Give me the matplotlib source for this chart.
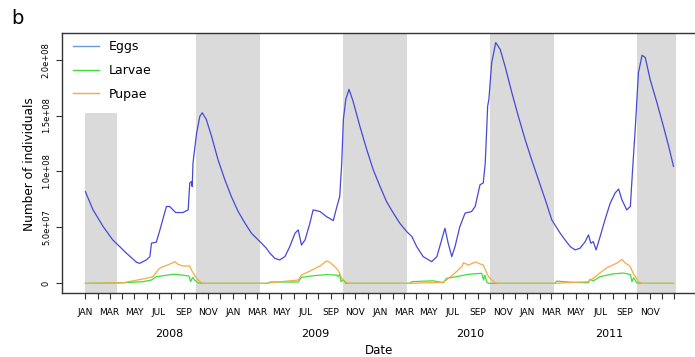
import numpy as np
import matplotlib
matplotlib.use("Agg")
import matplotlib.pyplot as plt
from matplotlib.lines import Line2D

# days counted from 2008-01-01, values in units of 1e7 individuals
start = np.datetime64("2008-01-01")

egg_day = [0, 19, 44, 68, 81, 102, 127, 135, 151, 160, 164, 176, 185, 201, 209, 224,
           242, 255, 259, 263, 265, 267, 276, 284, 290, 300, 313, 329, 346, 362, 379,
           396, 412, 437, 449, 458, 470, 482, 495, 507, 520, 528, 536, 545, 557, 565,
           582, 598, 615, 623, 631, 636, 640, 646, 654, 664, 681, 698, 714, 731, 747,
           764, 780, 797, 810, 822, 838, 859, 872, 880, 892, 900, 909, 917, 929, 942,
           958, 967, 979, 987, 992, 998, 1001, 1008, 1018, 1029, 1041, 1058, 1074,
           1091, 1107, 1124, 1141, 1157, 1170, 1178, 1190, 1203, 1215, 1227, 1240,
           1248, 1254, 1260, 1267, 1277, 1289, 1302, 1314, 1323, 1331, 1343, 1352,
           1357, 1364, 1372, 1381, 1389, 1401, 1418, 1434, 1447, 1459]
egg_val = [8.2, 6.57, 5.08, 3.88, 3.43, 2.69, 1.88, 1.79, 2.09, 2.39, 3.59, 3.68, 4.78,
           6.87, 6.87, 6.33, 6.33, 6.57, 8.97, 9.11, 8.66, 10.76, 13.45, 14.94, 15.25,
           14.65, 13.15, 11.06, 9.26, 7.77, 6.42, 5.38, 4.48, 3.59, 3.14, 2.69, 2.24,
           2.09, 2.39, 3.28, 4.48, 4.78, 3.43, 3.88, 5.38, 6.57, 6.42, 5.97, 5.61, 6.73,
           7.77, 10.76, 14.65, 16.44, 17.34, 16.29, 14.04, 11.96, 10.16, 8.66, 7.32,
           6.28, 5.38, 4.63, 4.18, 3.28, 2.39, 1.94, 2.39, 3.4, 4.93, 3.59, 2.39, 3.28,
           5.08, 6.28, 6.42, 6.87, 8.82, 8.97, 10.76, 15.84, 16.44, 19.73, 21.52, 20.92,
           19.43, 17.04, 14.94, 12.85, 11.06, 9.26, 7.47, 5.68, 4.93, 4.48, 3.88, 3.28,
           2.99, 3.14, 3.73, 4.33, 3.59, 3.73, 2.99, 4.18, 5.68, 7.17, 8.07, 8.43, 7.47,
           6.57, 6.87, 9.87, 13.75, 18.83, 20.39, 20.18, 18.23, 16.14, 14.04, 12.25,
           10.46]

larvae_day = [0, 93, 143, 164, 176, 193, 218, 242, 257, 261, 266, 271, 280, 288,
              453, 458, 528, 536, 565, 598, 623, 627, 631, 634, 640, 646,
              805, 809, 863, 888, 896, 921, 950, 983, 988, 991, 996, 1001,
              1165, 1169, 1211, 1248, 1252, 1260, 1277, 1310, 1335, 1352, 1356, 1360,
              1368, 1376, 1459]
larvae_val = [0, 0.05, 0.15, 0.3, 0.6, 0.68, 0.81, 0.74, 0.65, 0.15, 0.54, 0.3, 0.05, 0,
              0, 0.12, 0.12, 0.54, 0.68, 0.78, 0.74, 0.6, 0.83, 0.15, 0.3, 0,
              0, 0.15, 0.23, 0.05, 0.45, 0.6, 0.81, 0.9, 0.3, 0.74, 0.1, 0,
              0, 0.2, 0.09, 0.05, 0.36, 0.23, 0.6, 0.85, 0.92, 0.78, 0.15, 0.5,
              0.05, 0, 0]

pupae_day = [0, 93, 151, 168, 176, 184, 201, 218, 222, 230, 242, 259, 263, 276, 288, 296,
             445, 528, 536, 557, 582, 598, 606, 619, 628, 636, 648, 656,
             805, 887, 896, 913, 934, 938, 950, 969, 975, 987, 1000, 1016, 1029,
             1165, 1248, 1260, 1277, 1294, 1318, 1331, 1338, 1351, 1359, 1372, 1379, 1459]
pupae_val = [0, 0.05, 0.45, 0.6, 1.0, 1.35, 1.6, 1.85, 1.94, 1.7, 1.55, 1.55, 1.19, 0.45,
             0.05, 0,
             0, 0.3, 0.74, 1.1, 1.55, 2.0, 1.88, 1.49, 1.1, 0.45, 0.05, 0,
             0, 0.1, 0.3, 0.81, 1.5, 1.85, 1.64, 1.92, 1.79, 1.64, 0.6, 0.05, 0,
             0, 0.15, 0.45, 0.95, 1.4, 1.8, 2.15, 1.85, 1.55, 0.9, 0.15, 0, 0]

# shaded winter periods (start, end); first one only reaches 1.52e8
winter_start = ["2008-01-01", "2008-10-01", "2009-10-01", "2010-10-01", "2011-10-01"]
winter_end = ["2008-03-19", "2009-03-10", "2010-03-10", "2011-03-09", "2012-01-04"]
first_winter_top = 1.52e8

year_labels = ["2008", "2009", "2010", "2011"]
year_label_dates = ["2008-07-27", "2009-07-25", "2010-08-12", "2011-07-23"]

month_names = ["JAN", "FEB", "MAR", "APR", "MAY", "JUN",
               "JUL", "AUG", "SEP", "OCT", "NOV", "DEC"]


def to_dates(days):
    return start + np.array(days).astype("timedelta64[D]")


egg_x, egg_y = to_dates(egg_day), np.array(egg_val) * 1e7
lar_x, lar_y = to_dates(larvae_day), np.array(larvae_val) * 1e7
pup_x, pup_y = to_dates(pupae_day), np.array(pupae_val) * 1e7

c_egg = "#4848d8"
c_lar = "#3ede3e"
c_pup = "#f5aa45"

fig = plt.figure(figsize=(6.95, 3.57), dpi=100)
ax = fig.add_axes([0.0892, 0.1793, 0.9135, 0.7283])

ymax_data = egg_y.max()
ylo, yhi = -0.04 * ymax_data, ymax_data * 1.04
xpad = (egg_x[-1] - egg_x[0]) * 0.04
ax.set_xlim(egg_x[0] - xpad, egg_x[-1] + xpad)
ax.set_ylim(ylo, yhi)

for i, (s, e) in enumerate(zip(winter_start, winter_end)):
    top = first_winter_top if i == 0 else yhi
    ax.fill_between([np.datetime64(s), np.datetime64(e)], ylo, top,
                    color="#dadada", lw=0, zorder=0)

ax.plot(egg_x, egg_y, color=c_egg, lw=0.9, zorder=3)
ax.plot(lar_x, lar_y, color=c_lar, lw=0.9, zorder=3)
ax.plot(pup_x, pup_y, color=c_pup, lw=0.9, zorder=3)

# x axis: a tick every month, label every second month up to Nov 2011
months = np.arange(np.datetime64("2008-01"), np.datetime64("2012-02"),
                   np.timedelta64(1, "M"))
xlabels = []
for k, m in enumerate(months):
    idx = int(m.astype(int)) % 12
    xlabels.append(month_names[idx] if idx % 2 == 0 and k < len(months) - 1 else "")
ax.set_xticks(months.astype("datetime64[D]"))
ax.set_xticklabels(xlabels)
ax.tick_params(axis="x", direction="out", length=4, width=0.8, labelsize=6.5, pad=7,
               color="#333333")

ax.set_yticks([0, 5e7, 1e8, 1.5e8, 2e8])
ax.set_yticklabels(["0", "5.0e+07", "1.0e+08", "1.5e+08", "2.0e+08"],
                   rotation=90, va="center")
ax.tick_params(axis="y", direction="out", length=4, width=0.8, labelsize=6, pad=4,
               color="#333333")

for side in ["left", "top", "bottom"]:
    ax.spines[side].set_color("#333333")
    ax.spines[side].set_linewidth(1.0)
ax.spines["right"].set_visible(False)

for lab, d in zip(year_labels, year_label_dates):
    ax.text(np.datetime64(d), -0.159, lab, transform=ax.get_xaxis_transform(),
            ha="center", va="center", fontsize=8)

ax.text(0.5, -0.223, "Date", transform=ax.transAxes, ha="center", va="center",
        fontsize=8.5)
fig.text(30 / 695, 0.54, "Number of individuals", rotation=90, ha="center",
         va="center", fontsize=8.7)
fig.text(17 / 695, 1 - 19 / 357, "b", ha="center", va="center", fontsize=14)

handles = [Line2D([], [], color="#6b98dc", lw=1.0),
           Line2D([], [], color=c_lar, lw=1.0),
           Line2D([], [], color=c_pup, lw=1.0)]
ax.legend(handles, ["Eggs", "Larvae", "Pupae"], loc="upper left",
          bbox_to_anchor=(0.0173, 0.972), frameon=False, fontsize=9,
          handlelength=2.1, handletextpad=0.75, labelspacing=0.85,
          borderaxespad=0, borderpad=0)

fig.savefig("out.png", dpi=100)
